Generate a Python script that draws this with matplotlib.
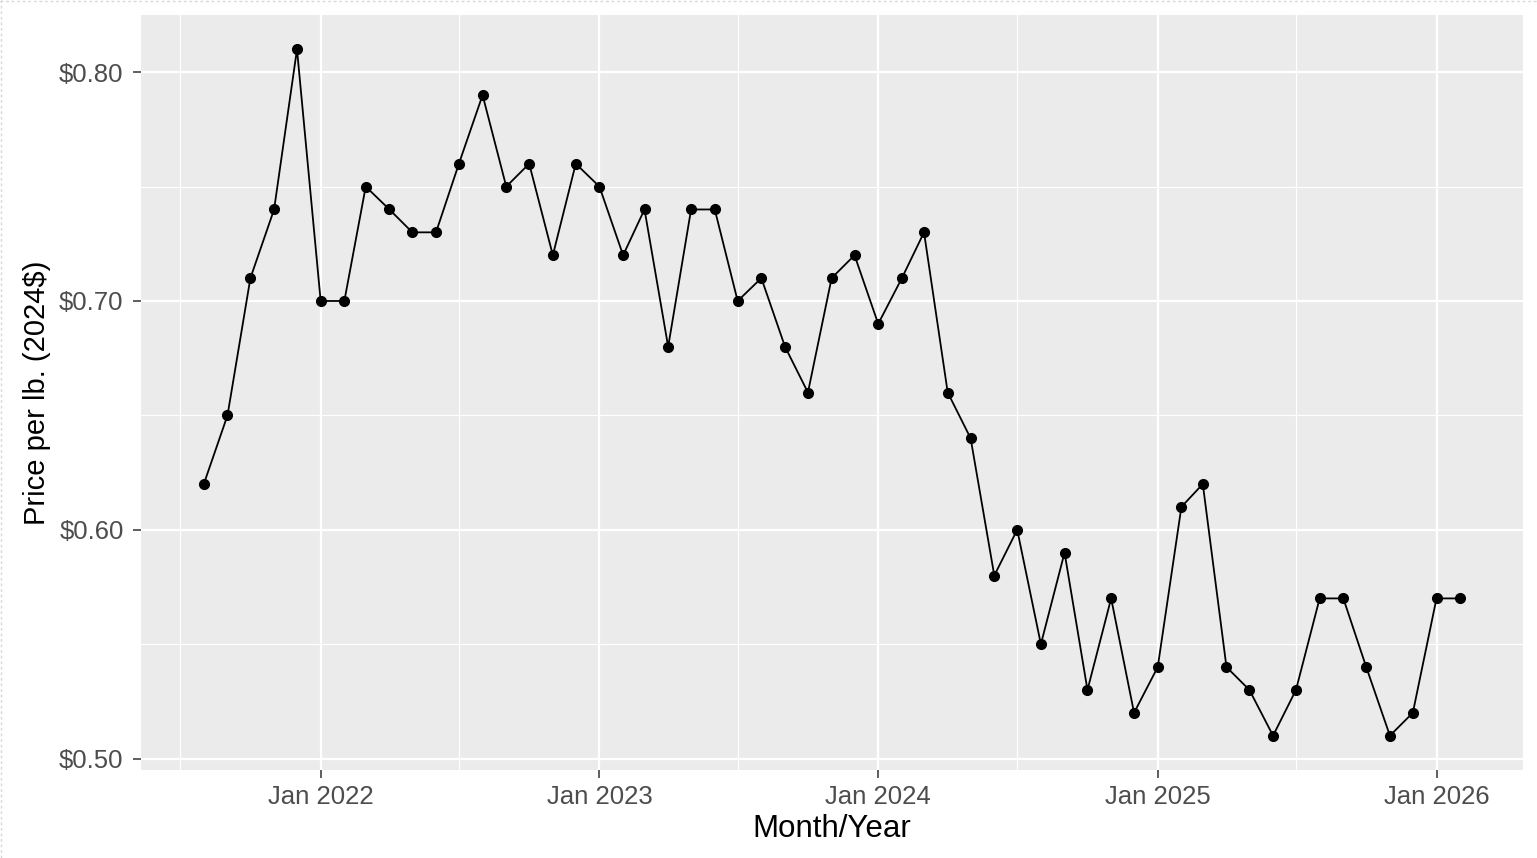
import matplotlib
matplotlib.use("Agg")
import matplotlib.pyplot as plt
import matplotlib.dates as mdates
import matplotlib.ticker as mticker
import numpy as np
import pandas as pd
from matplotlib.lines import Line2D

start_month = "2021-08-01"
prices = [0.62, 0.65, 0.71, 0.74, 0.81,
          0.70, 0.70, 0.75, 0.74, 0.73, 0.73, 0.76, 0.79, 0.75, 0.76, 0.72, 0.76,
          0.75, 0.72, 0.74, 0.68, 0.74, 0.74, 0.70, 0.71, 0.68, 0.66, 0.71, 0.72,
          0.69, 0.71, 0.73, 0.66, 0.64, 0.58, 0.60, 0.55, 0.59, 0.53, 0.57, 0.52,
          0.54, 0.61, 0.62, 0.54, 0.53, 0.51, 0.53, 0.57, 0.57, 0.54, 0.51, 0.52,
          0.57, 0.57]
dates = pd.date_range(start_month, periods=len(prices), freq="MS")
x_ticks = pd.to_datetime(["2022-01-01", "2023-01-01", "2024-01-01", "2025-01-01", "2026-01-01"])
x_minor = pd.to_datetime(["2021-07-01", "2022-07-01", "2023-07-01", "2024-07-01", "2025-07-01"])
y_ticks = [0.50, 0.60, 0.70, 0.80]
y_minor = [0.55, 0.65, 0.75]

plt.rcParams['font.family'] = ['Liberation Sans', 'DejaVu Sans']

fig = plt.figure(figsize=(15.37, 8.58), dpi=100)
W, H = 1537, 858
left, right, top, bottom = 141, 1523, 15, 770
ax = fig.add_axes([left / W, 1 - bottom / H, (right - left) / W, (bottom - top) / H])
ax.set_facecolor("#EBEBEB")
for s in ax.spines.values():
    s.set_visible(False)

xnum = mdates.date2num(dates)
xr = xnum[-1] - xnum[0]
ax.set_xlim(xnum[0] - 0.05 * xr, xnum[-1] + 0.05 * xr)
yr = max(prices) - min(prices)
ax.set_ylim(min(prices) - 0.05 * yr, max(prices) + 0.05 * yr)

ax.set_xticks(mdates.date2num(x_ticks))
ax.set_xticklabels([d.strftime("%b %Y") for d in x_ticks])
ax.set_xticks(mdates.date2num(x_minor), minor=True)
ax.set_yticks(y_ticks)
ax.yaxis.set_major_formatter(mticker.FuncFormatter(lambda v, p: f"${v:.2f}"))
ax.set_yticks(y_minor, minor=True)

ax.grid(True, which="major", color="white", linewidth=1.6)
ax.grid(True, which="minor", color="white", linewidth=0.8)
ax.set_axisbelow(True)
ax.tick_params(which="major", length=5.5, width=1.1, color="#333333",
               labelsize=18.5, labelcolor="#4D4D4D")
ax.tick_params(axis="x", which="major", pad=5)
ax.tick_params(axis="y", which="major", pad=7)
ax.tick_params(which="minor", length=0)

ax.plot(dates, prices, color="black", linewidth=1.3, marker="o", markersize=7)

ax.set_xlabel("Month/Year", fontsize=22.5, color="black", labelpad=4)
ax.set_ylabel("Price per lb. (2024$)", fontsize=21, color="black", labelpad=6)

fig.lines.append(Line2D([0, 1], [0.999, 0.999], transform=fig.transFigure,
                        color="#D8D8D8", linestyle=(0, (2, 2)), linewidth=1))
fig.lines.append(Line2D([0.0005, 0.0005], [0, 1], transform=fig.transFigure,
                        color="#D8D8D8", linestyle=(0, (2, 2)), linewidth=1))

fig.savefig("out.png", dpi=100)
